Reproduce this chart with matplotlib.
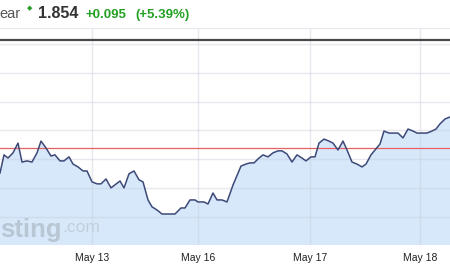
import matplotlib
matplotlib.use("Agg")
import matplotlib.pyplot as plt

# time position (chart units along x) and price values
t = [0, 4, 8, 13, 18, 22, 27, 32, 37, 41, 46, 51, 55, 60, 64, 69, 73, 78, 83, 87,
     92, 97, 101, 106, 111, 120, 124, 129, 134, 139, 143, 148, 152, 157, 162, 175,
     181, 185, 190, 195, 198, 204, 208, 213, 217, 222, 227, 233, 241, 246, 250, 254,
     259, 263, 268, 273, 278, 282, 287, 292, 297, 302, 306, 311, 315, 319, 324, 329,
     333, 338, 343, 347, 352, 357, 362, 366, 371, 375, 380, 384, 389, 394, 398, 403,
     408, 413, 417, 422, 427, 432, 436, 440, 445, 450]
price = [1.672, 1.735, 1.724, 1.742, 1.776, 1.710, 1.714, 1.710, 1.742, 1.783,
         1.759, 1.731, 1.735, 1.714, 1.714, 1.728, 1.703, 1.693, 1.679, 1.679,
         1.641, 1.634, 1.634, 1.651, 1.620, 1.644, 1.620, 1.669, 1.679, 1.648,
         1.641, 1.578, 1.554, 1.543, 1.529, 1.529, 1.550, 1.550, 1.578, 1.578,
         1.571, 1.571, 1.564, 1.602, 1.578, 1.578, 1.571, 1.630, 1.696, 1.703,
         1.707, 1.707, 1.724, 1.735, 1.728, 1.742, 1.749, 1.749, 1.738, 1.710,
         1.735, 1.724, 1.714, 1.728, 1.728, 1.776, 1.790, 1.783, 1.776, 1.752,
         1.783, 1.752, 1.710, 1.703, 1.693, 1.703, 1.735, 1.752, 1.773, 1.818,
         1.811, 1.811, 1.811, 1.794, 1.825, 1.818, 1.811, 1.811, 1.811, 1.818,
         1.825, 1.843, 1.860, 1.867]
prev_close = 1.759
high_level = 2.134
tick_pos = [92, 198, 310, 420]
tick_labels = ["May 13", "May 16", "May 17", "May 18"]
grid_values = [1.52, 1.62, 1.72, 1.82, 1.92, 2.02, 2.12]

fig = plt.figure(figsize=(4.5, 2.7), dpi=100)
ax = fig.add_axes([0, 25 / 270, 1, 1 - 25 / 270 - 28 / 270])
ax.set_xlim(0, 450)
ax.set_ylim(1.421, 2.177)

ax.fill_between(t, price, 1.421, color="#d7e8fb", zorder=1, lw=0)
for g in grid_values:
    ax.axhline(g, color="#c8cfdc", lw=1, alpha=0.45, zorder=1.2)
for x in tick_pos:
    ax.axvline(x, color="#c8cfdc", lw=1, alpha=0.45, zorder=1.2)

ax.plot(t, price, color="#3d4977", lw=1.1, zorder=3)
ax.axhline(prev_close, color="#e86060", lw=0.9, zorder=2)
ax.axhline(high_level, color="#4a4a4a", lw=1.6, zorder=2)

ax.set_xticks(tick_pos)
ax.set_xticklabels(tick_labels, fontsize=7.5, family="Liberation Sans", color="#222222")
ax.tick_params(axis="x", length=0, pad=6)
ax.set_yticks([])
for s in ax.spines.values():
    s.set_visible(False)
ax.spines["top"].set_visible(True)
ax.spines["top"].set_color("#e6e8ef")

# watermark
xt = ax.get_xaxis_transform()
ax.text(0, 0.015, "sting", transform=xt, fontsize=18.5, fontweight="bold",
        family="Liberation Sans", color="#b9c6d3", va="bottom", ha="left", zorder=1.5)
ax.text(62, 0.045, ".com", transform=xt, fontsize=12.5,
        family="Liberation Sans", color="#c3cfdb", va="bottom", ha="left", zorder=1.5)

# header
fig.text(-1 / 450, 1 - 18 / 270, "ear", fontsize=10.5, family="Liberation Sans",
         color="#555555", va="baseline")
fig.text(27 / 450, 1 - 10 / 270, "◆", fontsize=5, color="#2aa02a", va="baseline")
fig.text(38 / 450, 1 - 18 / 270, "1.854", fontsize=11.5, fontweight="bold",
         family="Liberation Sans", color="#333333", va="baseline")
fig.text(85 / 450, 1 - 18 / 270, "+0.095", fontsize=9.5, fontweight="bold",
         family="Liberation Sans", color="#22a022", va="baseline")
fig.text(135 / 450, 1 - 18 / 270, "(+5.39%)", fontsize=9.5, fontweight="bold",
         family="Liberation Sans", color="#22a022", va="baseline")

fig.savefig("out.png", dpi=100)
